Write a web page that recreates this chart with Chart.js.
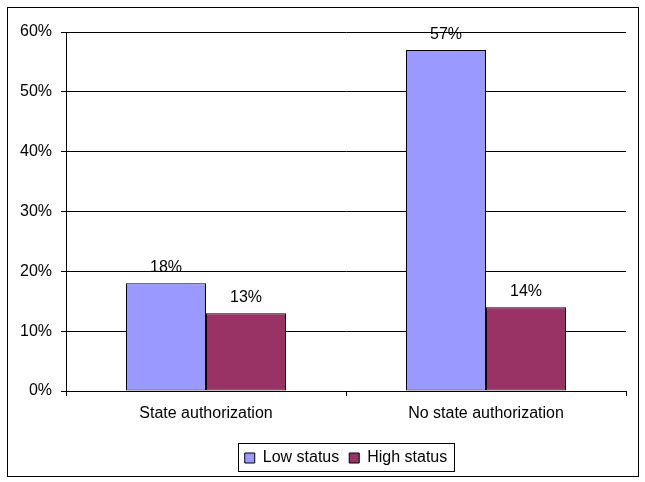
<!DOCTYPE html>
<html>
<head>
<meta charset="utf-8">
<script src="https://cdn.jsdelivr.net/npm/chart.js@4"></script>
<style>
  html, body { margin: 0; padding: 0; background: #fff; }
  #wrap { width: 645px; height: 482px; }
</style>
</head>
<body>
<div id="wrap"><canvas id="chart" width="645" height="482"></canvas></div>
<script>
const categories = ['State authorization', 'No state authorization'];
const lowStatus = [18, 57];
const highStatus = [13, 14];
const tickValues = [0, 10, 20, 30, 40, 50, 60];

const FONT = '"Liberation Sans", Arial, sans-serif';

// white background and the outer frame
const framePlugin = {
    id: 'frame',
    beforeDraw(chart) {
        const ctx = chart.ctx;
        ctx.save();
        ctx.fillStyle = '#fff';
        ctx.fillRect(0, 0, chart.width, chart.height);
        ctx.strokeStyle = '#000';
        ctx.lineWidth = 1;
        ctx.strokeRect(7.5, 7.5, 631, 469);
        ctx.restore();
    }
};

// value labels above bars
const valueLabels = {
    id: 'valueLabels',
    afterDatasetsDraw(chart) {
        const ctx = chart.ctx;
        ctx.save();
        ctx.font = '16px ' + FONT;
        ctx.fillStyle = '#000';
        ctx.textAlign = 'center';
        ctx.textBaseline = 'alphabetic';
        chart.data.datasets.forEach(function(ds, i) {
            chart.getDatasetMeta(i).data.forEach(function(bar, j) {
                ctx.fillText(ds.data[j] + '%', bar.x, bar.y - 11);
            });
        });
        ctx.restore();
    }
};

// center the legend under the plot area, then frame it
const legendBox = {
    id: 'legendBox',
    afterLayout(chart) {
        const lg = chart.legend;
        lg.left = chart.chartArea.left;
        lg.right = chart.chartArea.right;
        lg.width = lg.right - lg.left;
    },
    afterDraw(chart) {
        const boxes = chart.legend.legendHitBoxes;
        if (!boxes || !boxes.length) return;
        let l = Infinity, r = -Infinity, t = Infinity, b = -Infinity;
        boxes.forEach(function(h) {
            l = Math.min(l, h.left);
            r = Math.max(r, h.left + h.width);
            t = Math.min(t, h.top);
            b = Math.max(b, h.top + h.height);
        });
        const ctx = chart.ctx;
        ctx.save();
        ctx.strokeStyle = '#000';
        ctx.lineWidth = 1;
        ctx.strokeRect(Math.round(l) - 6.5, Math.round(t) - 6.5, Math.round(r - l) + 13, Math.round(b - t) + 12);
        ctx.restore();
    }
};

new Chart(document.getElementById('chart'), {
    type: 'bar',
    data: {
        labels: categories,
        datasets: [{
            label: 'Low status',
            data: lowStatus,
            backgroundColor: '#9999FF',
            borderColor: '#000',
            borderWidth: 1,
            borderSkipped: false
        }, {
            label: 'High status',
            data: highStatus,
            backgroundColor: '#993366',
            borderColor: '#000',
            borderWidth: 1,
            borderSkipped: false
        }]
    },
    options: {
        responsive: false,
        animation: false,
        categoryPercentage: 0.5714,
        barPercentage: 1,
        layout: {
            padding: { left: 0, right: 19, top: 32, bottom: 6 }
        },
        scales: {
            x: {
                afterFit(scale) { scale.height = 49; },
                grid: {
                    offset: true,
                    drawOnChartArea: false,
                    drawTicks: true,
                    tickLength: 5,
                    color: '#000'
                },
                border: { color: '#000' },
                ticks: {
                    color: '#000',
                    padding: 8,
                    font: { family: FONT, size: 16 }
                }
            },
            y: {
                min: 0,
                max: 60,
                afterFit(scale) { scale.width = 66; },
                afterBuildTicks(scale) {
                    scale.ticks = tickValues.map(function(v) { return { value: v }; });
                },
                grid: {
                    color: '#000',
                    tickLength: 5
                },
                border: { color: '#000' },
                ticks: {
                    color: '#000',
                    padding: 9,
                    font: { family: FONT, size: 16 },
                    callback: function(v) { return v + '%'; }
                }
            }
        },
        plugins: {
            legend: {
                position: 'bottom',
                labels: {
                    color: '#000',
                    boxWidth: 10,
                    boxHeight: 10,
                    padding: 10,
                    font: { family: FONT, size: 16 },
                    generateLabels(chart) {
                        return chart.data.datasets.map(function(ds, i) {
                            return {
                                text: ds.label,
                                fillStyle: ds.backgroundColor,
                                strokeStyle: '#000',
                                lineWidth: 1,
                                datasetIndex: i
                            };
                        });
                    }
                }
            },
            tooltip: { enabled: false }
        }
    },
    plugins: [framePlugin, valueLabels, legendBox]
});
</script>
</body>
</html>
